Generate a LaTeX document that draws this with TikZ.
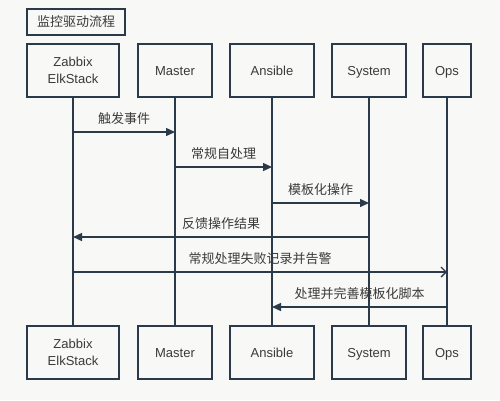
\documentclass[tikz,border=0pt]{standalone}
\usepackage{fontspec}
\setmainfont{Liberation Sans}
\newfontfamily\cjk{Noto Sans CJK SC}
\usetikzlibrary{arrows.meta}

\definecolor{linec}{HTML}{2B3A48}
\definecolor{textc}{HTML}{3A3A3A}
\definecolor{bgc}{HTML}{F8F8F6}

\begin{document}
\begin{tikzpicture}[x=1pt, y=-1pt,
    every node/.style={font=\fontsize{13}{17}\selectfont, text=textc},
    actor/.style={draw=linec, line width=1.5pt, fill=bgc, minimum height=53pt, align=center, inner sep=0pt},
    oneline/.style={actor, text height=9.3pt, text depth=0pt},
    life/.style={draw=linec, line width=1.5pt},
    msg/.style={draw=linec, line width=1.4pt, -{Triangle[length=9pt,width=8pt]}},
    warn/.style={draw=linec, line width=1.4pt, -{Straight Barb[length=5pt,width=10pt,line width=1.4pt]}},
    lbl/.style={midway, yshift=13pt}]
    \fill[bgc] (0,0) rectangle (500,400);
    \useasboundingbox (0,0) rectangle (500,400);

    \node[draw=linec, line width=1.5pt, minimum width=98pt, minimum height=26pt, inner sep=0pt] (title) at (76,22) {\cjk 监控驱动流程};

    % top row
    \node[actor, minimum width=92pt] (zt) at (73,70.5) {Zabbix\\ElkStack};
    \node[oneline, minimum width=74pt] (mt) at (175,70.5) {Master};
    \node[oneline, minimum width=84pt] (at) at (272,70.5) {Ansible};
    \node[oneline, minimum width=74pt] (st) at (369,70.5) {System};
    \node[oneline, minimum width=48pt] (ot) at (447,70.5) {Ops};

    % bottom row
    \node[actor, minimum width=92pt] (zb) at (73,352.5) {Zabbix\\ElkStack};
    \node[oneline, minimum width=74pt] (mb) at (175,352.5) {Master};
    \node[oneline, minimum width=84pt] (ab) at (272,352.5) {Ansible};
    \node[oneline, minimum width=74pt] (sb) at (369,352.5) {System};
    \node[oneline, minimum width=48pt] (ob) at (447,352.5) {Ops};

    % lifelines
    \draw[life] (zt) -- (zb);
    \draw[life] (mt) -- (mb);
    \draw[life] (at) -- (ab);
    \draw[life] (st) -- (sb);
    \draw[life] (ot) -- (ob);

    % messages
    \draw[msg] (zt.south |- 0,132) -- (mt.south |- 0,132) node[lbl] {\cjk 触发事件};
    \draw[msg] (mt.south |- 0,167) -- (at.south |- 0,167) node[lbl] {\cjk 常规自处理};
    \draw[msg] (at.south |- 0,203) -- (st.south |- 0,203) node[lbl] {\cjk 模板化操作};
    \draw[msg] (st.south |- 0,237) -- (zt.south |- 0,237) node[lbl] {\cjk 反馈操作结果};
    \draw[warn] (zt.south |- 0,272) -- (ot.south |- 0,272) node[lbl] {\cjk 常规处理失败记录并告警};
    \draw[msg] (ot.south |- 0,307) -- (at.south |- 0,307) node[lbl] {\cjk 处理并完善模板化脚本};
\end{tikzpicture}
\end{document}
